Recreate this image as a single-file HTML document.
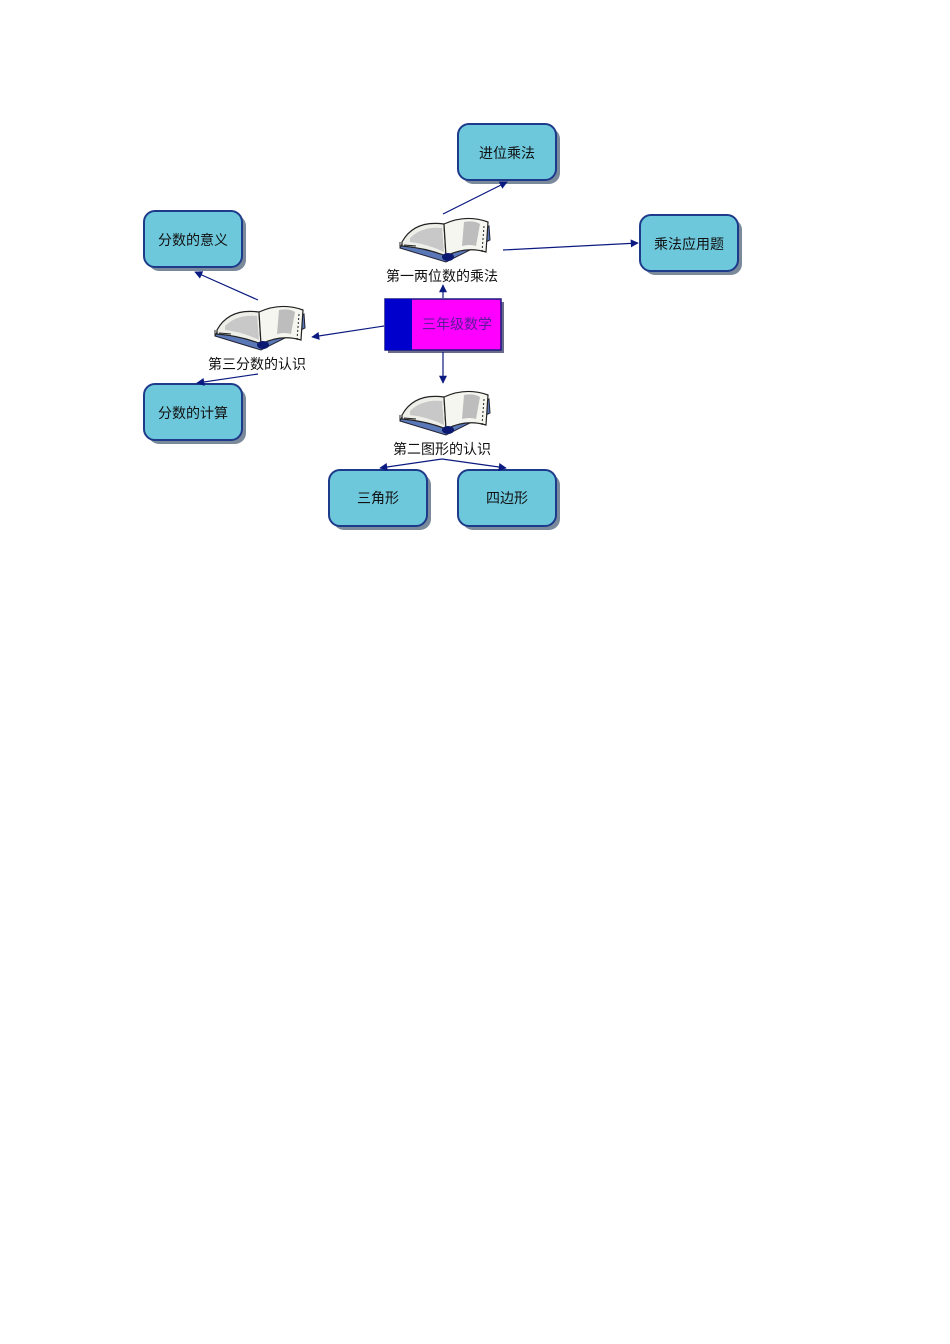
<!DOCTYPE html>
<html><head><meta charset="utf-8"><style>
html,body{margin:0;padding:0;background:#fff;}
svg{display:block;}
text{font-family:"Liberation Sans","Noto Sans CJK SC",sans-serif;font-size:14px;fill:#111;}
</style></head><body>
<svg width="950" height="1344" viewBox="0 0 950 1344" xmlns="http://www.w3.org/2000/svg">
<defs>
<marker id="ah" viewBox="0 0 10 10" refX="9" refY="5" markerWidth="14" markerHeight="8" orient="auto" markerUnits="userSpaceOnUse">
<path d="M0,0 L10,5 L0,10 Z" fill="#0a1a80"/>
</marker>
<g id="book">
<path d="M4,36 L50,50 L94,28 L93,14 L50,40 L6,32 Z" fill="#5a78b8" stroke="#223" stroke-width="1"/>
<path d="M6,30 Q18,8 48,12 L50,44 Q30,36 6,34 Z" fill="#efefe9" stroke="#222" stroke-width="1.2"/>
<path d="M14,26 Q26,14 46,16 L48,40 Q32,32 14,30 Z" fill="#c8c8c8"/>
<path d="M48,12 Q70,2 92,10 L90,40 Q70,34 50,44 Z" fill="#f6f6f0" stroke="#222" stroke-width="1.2"/>
<path d="M68,10 Q78,8 84,12 L80,34 Q74,32 66,34 Z" fill="#bdbdbd"/>
<path d="M88,14 L86,40" stroke="#222" stroke-dasharray="2,2"/>
<ellipse cx="52" cy="45" rx="6" ry="4" fill="#0b1a70"/>
<path d="M4,30 L4,36 M8,33 L20,34" stroke="#222"/>
</g>
<g id="bx">
<rect x="4" y="4" width="98" height="56" rx="11" fill="#7a8a9a"/>
<rect x="0" y="0" width="98" height="56" rx="11" fill="#6dc8dc" stroke="#1e3a8a" stroke-width="2"/>
</g>
</defs>

<use href="#bx" x="458" y="124"/><text x="507" y="158" text-anchor="middle">进位乘法</text>
<use href="#bx" x="144" y="211"/><text x="193" y="245" text-anchor="middle">分数的意义</text>
<use href="#bx" x="640" y="215"/><text x="689" y="249" text-anchor="middle">乘法应用题</text>
<use href="#bx" x="144" y="384"/><text x="193" y="418" text-anchor="middle">分数的计算</text>
<use href="#bx" x="329" y="470"/><text x="378" y="503" text-anchor="middle">三角形</text>
<use href="#bx" x="458" y="470"/><text x="507" y="503" text-anchor="middle">四边形</text>

<rect x="388" y="302" width="116" height="51" fill="#6a6a8a"/>
<rect x="385" y="299" width="116" height="51" fill="#ff00ff" stroke="#1a1a80" stroke-width="1.5"/>
<rect x="385" y="299" width="27" height="51" fill="#0000cc"/>
<text x="457" y="329" text-anchor="middle" style="fill:#5a1a9a">三年级数学</text>

<use href="#book" x="396" y="212"/>
<use href="#book" x="211" y="300"/>
<use href="#book" x="396" y="385"/>

<text x="442" y="281" text-anchor="middle">第一两位数的乘法</text>
<text x="257" y="369" text-anchor="middle">第三分数的认识</text>
<text x="442" y="454" text-anchor="middle">第二图形的认识</text>

<g stroke="#0a1a80" stroke-width="1.2" fill="none" marker-end="url(#ah)">
<line x1="443" y1="214" x2="507" y2="182"/>
<line x1="503" y1="250" x2="638" y2="243"/>
<line x1="443" y1="298" x2="443" y2="285"/>
<line x1="384" y1="326" x2="312" y2="337"/>
<line x1="443" y1="352" x2="443" y2="383"/>
<line x1="258" y1="300" x2="195" y2="272"/>
<line x1="258" y1="374" x2="197" y2="383"/>
<line x1="442" y1="459" x2="380" y2="468"/>
<line x1="442" y1="459" x2="506" y2="468"/>
</g>
</svg>
</body></html>
